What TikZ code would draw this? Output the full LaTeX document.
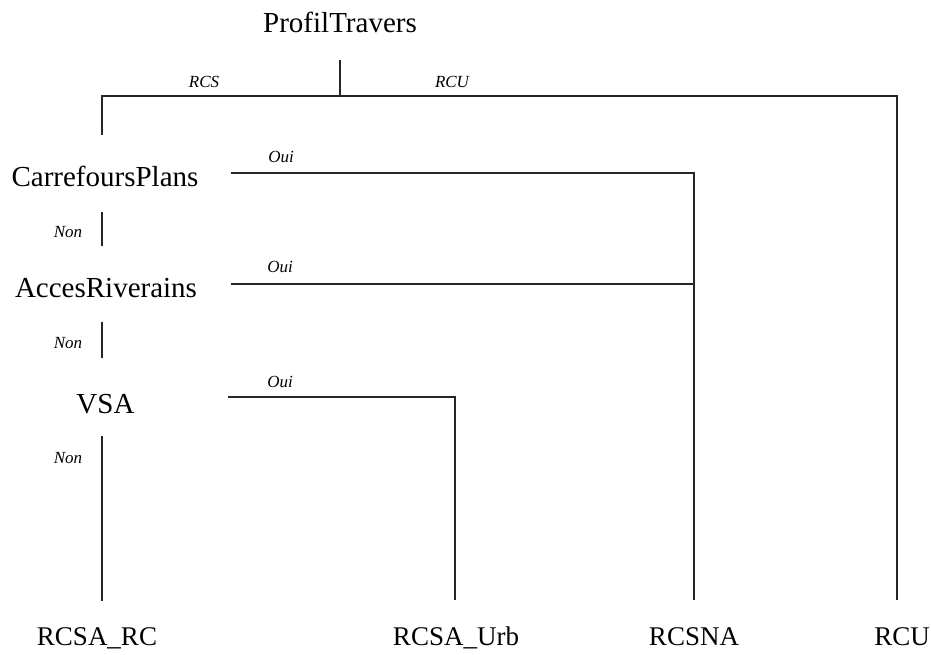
\documentclass[tikz,border=0pt]{standalone}
\usepackage{fontspec}
\setmainfont{Liberation Serif}
\begin{document}
\begin{tikzpicture}[x=1pt,y=-1pt,
  big/.style={inner sep=0pt,font=\fontsize{29}{32}\selectfont},
  leaf/.style={inner sep=0pt,font=\fontsize{27}{30}\selectfont},
  lab/.style={inner sep=0pt,font=\fontsize{17}{19}\selectfont\itshape},
  edge/.style={line width=1.2pt,draw=black!85}]
\useasboundingbox (0,0) rectangle (931,655);
% nodes
\node[big] (root) at (340,22) {ProfilTravers};
\node[big] (cp) at (105,176) {CarrefoursPlans};
\node[big] (ar) at (106,288) {AccesRiverains};
\node[big] (vsa) at (105.5,404) {VSA};
\node[leaf] (rc) at (97,638) {RCSA\_RC};
\node[leaf] (urb) at (456,638) {RCSA\_Urb};
\node[leaf] (na) at (694,637) {RCSNA};
\node[leaf] (rcu) at (902,637) {RCU};
% coordinates
\coordinate (r0) at (340,60);
\coordinate (r1) at (340,96);
\coordinate (hl) at (102,96);
\coordinate (hr) at (897,96);
\coordinate (cpin) at (102,135);
\coordinate (rcuin) at (897,600);
\coordinate (cpo) at (231,173);
\coordinate (cpk) at (694,173);
\coordinate (nain) at (694,600);
\coordinate (aro) at (231,284);
\coordinate (ark) at (694,284);
\coordinate (vso) at (228,397);
\coordinate (vsk) at (455,397);
\coordinate (urbin) at (455,600);
\coordinate (n1a) at (102,212);
\coordinate (n1b) at (102,246);
\coordinate (n2a) at (102,322);
\coordinate (n2b) at (102,358);
\coordinate (n3a) at (102,436);
\coordinate (rcin) at (102,601);
% connectors
\draw[edge] (r0) -- (r1);
\draw[edge] (cpin) -- (hl) -- (hr) -- (rcuin);
\draw[edge] (cpo) -- (cpk) -- (nain);
\draw[edge] (aro) -- (ark);
\draw[edge] (vso) -- (vsk) -- (urbin);
\draw[edge] (n1a) -- (n1b);
\draw[edge] (n2a) -- (n2b);
\draw[edge] (n3a) -- (rcin);
% labels
\node[lab] (lrcs) at (204,82) {RCS};
\node[lab] (lrcu) at (452,82) {RCU};
\node[lab] (o1) at (281,157) {Oui};
\node[lab] (o2) at (280,267) {Oui};
\node[lab] (o3) at (280,382) {Oui};
\node[lab] (n1) at (68,232) {Non};
\node[lab] (n2) at (68,343) {Non};
\node[lab] (n3) at (68,458) {Non};
\end{tikzpicture}
\end{document}
